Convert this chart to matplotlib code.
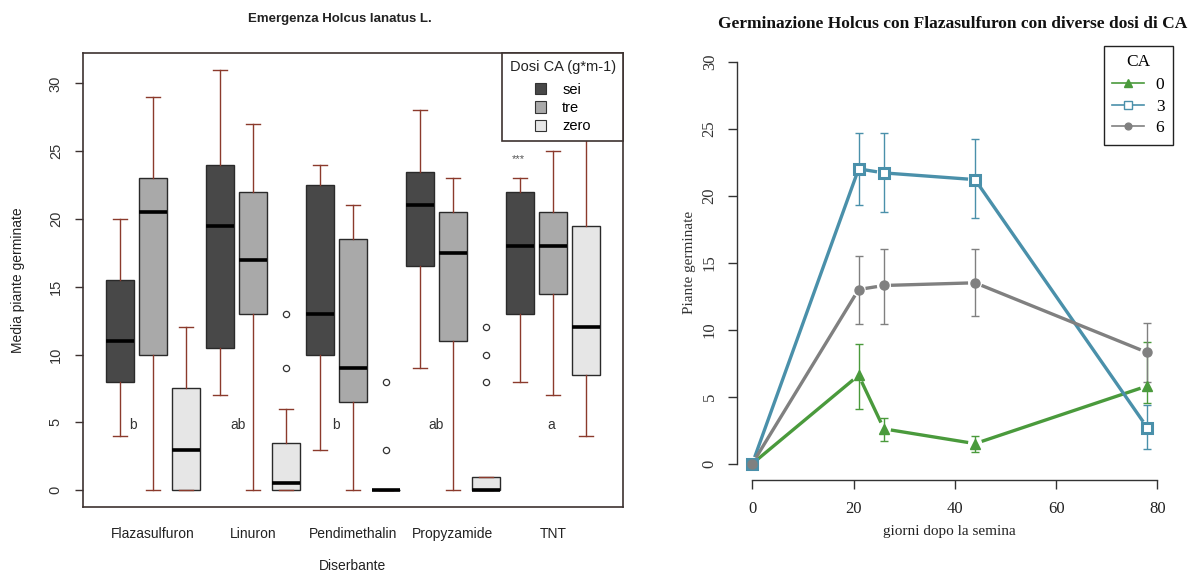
import numpy as np
import matplotlib
matplotlib.use("Agg")
import matplotlib.pyplot as plt
from matplotlib.patches import Patch
from matplotlib.lines import Line2D

# ---------------- data: box plot of emergence ----------------
herbicides = ["Flazasulfuron", "Linuron", "Pendimethalin", "Propyzamide", "TNT"]
doses = ["sei", "tre", "zero"]

# five-number summaries, one list per dose, ordered like `herbicides`
sei_whislo = [4, 7, 3, 9, 8]
sei_q1 = [8, 10.5, 10, 16.5, 13]
sei_med = [11, 19.5, 13, 21, 18]
sei_q3 = [15.5, 24, 22.5, 23.5, 22]
sei_whishi = [20, 31, 24, 28, 23]

tre_whislo = [0, 0, 0, 0, 7]
tre_q1 = [10, 13, 6.5, 11, 14.5]
tre_med = [20.5, 17, 9, 17.5, 18]
tre_q3 = [23, 22, 18.5, 20.5, 20.5]
tre_whishi = [29, 27, 21, 23, 25]

zero_whislo = [0, 0, 0, 0, 4]
zero_q1 = [0, 0, 0, 0, 8.5]
zero_med = [3, 0.5, 0, 0, 12]
zero_q3 = [7.5, 3.5, 0, 1, 19.5]
zero_whishi = [12, 6, 0, 1, 29]
zero_fliers = [[], [9, 13], [3, 8], [8, 10, 12], []]

letters = ["b", "ab", "b", "ab", "a"]
letter_x = [1.4, 4.55, 7.5, 10.5, 13.95]
letter_y = 4.8

# ---------------- data: germination time course ----------------
days = [0, 21, 26, 44, 78]
ca_levels = ["0", "3", "6"]
ca0_mean = [0, 6.6, 2.6, 1.5, 5.8]
ca0_low = [0, 4.1, 1.7, 0.9, 4.5]
ca0_high = [0, 8.9, 3.4, 2.1, 9.1]
ca3_mean = [0, 22.0, 21.7, 21.2, 2.7]
ca3_low = [0, 19.3, 18.8, 18.3, 1.1]
ca3_high = [0, 24.7, 24.7, 24.2, 4.4]
ca6_mean = [0, 13.0, 13.3, 13.5, 8.3]
ca6_low = [0, 10.4, 10.4, 11.0, 6.1]
ca6_high = [0, 15.5, 16.0, 16.0, 10.5]

W, H = 1189, 577
fig = plt.figure(figsize=(W / 100, H / 100), dpi=100)

SANS = ["Liberation Sans", "DejaVu Sans"]
SERIF = ["Liberation Serif", "DejaVu Serif"]

# ================= left panel: box plots =================
frame_col = "#3d3230"
whisk_col = "#8b3a2c"
fill = {"sei": "#484848", "tre": "#a9a9a9", "zero": "#e6e6e6"}

axL = fig.add_axes([83 / W, 1 - 507 / H, (623 - 83) / W, (507 - 53) / H])

summaries = {
    "sei": (sei_whislo, sei_q1, sei_med, sei_q3, sei_whishi, [[]] * 5),
    "tre": (tre_whislo, tre_q1, tre_med, tre_q3, tre_whishi, [[]] * 5),
    "zero": (zero_whislo, zero_q1, zero_med, zero_q3, zero_whishi, zero_fliers),
}

for j, dose in enumerate(doses):
    lo, q1, med, q3, hi, fl = summaries[dose]
    stats = []
    positions = []
    for i in range(len(herbicides)):
        stats.append(dict(whislo=lo[i], q1=q1[i], med=med[i], q3=q3[i],
                          whishi=hi[i], fliers=fl[i]))
        positions.append(3 * i + j + 1)
    axL.bxp(stats, positions=positions, widths=0.84, patch_artist=True,
            showfliers=True,
            boxprops=dict(facecolor=fill[dose], edgecolor="#2a2a2a", linewidth=1.0),
            medianprops=dict(color="black", linewidth=2.6, solid_capstyle="butt"),
            whiskerprops=dict(color=whisk_col, linewidth=1.0),
            capprops=dict(color=whisk_col, linewidth=1.0),
            capwidths=0.42,
            flierprops=dict(marker="o", markersize=4.5, markerfacecolor="white",
                            markeredgecolor="#333333", markeredgewidth=0.9),
            zorder=2)

for txt, lx in zip(letters, letter_x):
    axL.text(lx, letter_y, txt, ha="center", va="center", fontsize=10,
             family=SANS, color="#333333")
axL.text(13 - 0.05, 24.4, "***", ha="center", va="center", fontsize=8,
         family=SANS, color="#555555")

axL.set_xlim(-0.1, 16.1)
axL.set_ylim(-1.24, 32.24)
axL.set_xticks([3 * i + 2 for i in range(len(herbicides))])
axL.set_xticklabels(herbicides, family=SANS, fontsize=10, color="#222222")
axL.tick_params(axis="x", length=0, pad=14.5)
axL.set_yticks(range(0, 31, 5))
axL.set_yticklabels([str(v) for v in range(0, 31, 5)], family=SANS,
                    fontsize=10.5, color="#333333", rotation=90, va="center")
axL.tick_params(axis="y", length=5.5, width=1, color=frame_col, pad=9)
for s in axL.spines.values():
    s.set_color(frame_col)
    s.set_linewidth(1.2)
axL.set_xlabel("Diserbante", family=SANS, fontsize=10, color="#222222")
axL.xaxis.set_label_coords(0.5, -0.115)
axL.set_ylabel("Media piante germinate", family=SANS, fontsize=10, color="#222222")
axL.yaxis.set_label_coords(-0.108, 0.5)
fig.text(340 / W, 1 - 19 / H, "Emergenza Holcus lanatus L.", ha="center",
         va="center", family=SANS, fontsize=9.5, fontweight="bold", color="#222222")

leg_handles = [Patch(facecolor=fill[d], edgecolor="#333333", linewidth=0.8) for d in doses]
legL = axL.legend(leg_handles, doses, title="Dosi CA (g*m-1)", loc="upper right",
                  bbox_to_anchor=(1.0, 1.0), borderaxespad=0, frameon=True,
                  fancybox=False, framealpha=1.0, handlelength=0.8, handleheight=0.8,
                  handletextpad=1.1, labelspacing=0.3, borderpad=0.5,
                  prop=dict(family=SANS, size=10.5),
                  title_fontproperties=dict(family=SANS, size=10.5))
legL.get_frame().set_edgecolor(frame_col)
legL.get_frame().set_linewidth(1.2)
legL.get_title().set_color("#222222")
legL._legend_box.align = "center"
legL._legend_box.sep = 6
legL.set_zorder(10)

# ================= right panel: germination over time =================
axR = fig.add_axes([736.5 / W, 1 - 479.8 / H, (1163 - 736.5) / W, (479.8 - 45.6) / H])
axR.set_xlim(-3.12, 81.12)
axR.set_ylim(-1.2, 31.2)

series = [
    ("0", ca0_mean, ca0_low, ca0_high, "#4a9a3c",
     dict(marker="^", markersize=7.5, markerfacecolor="#4a9a3c", markeredgecolor="#4a9a3c")),
    ("3", ca3_mean, ca3_low, ca3_high, "#4a90aa",
     dict(marker="s", markersize=7.5, markerfacecolor="white", markeredgecolor="#4a90aa",
          markeredgewidth=2.2)),
    ("6", ca6_mean, ca6_low, ca6_high, "#808080",
     dict(marker="o", markersize=6.5, markerfacecolor="#808080", markeredgecolor="#808080")),
]

fig.canvas.draw()
gap_px = 7.0


def gapped_segments(ax, xs, ys, gap):
    pts = ax.transData.transform(np.column_stack([xs, ys]))
    inv = ax.transData.inverted()
    segs = []
    for a, b in zip(pts[:-1], pts[1:]):
        d = b - a
        L = np.hypot(*d)
        if L <= 2 * gap:
            continue
        u = d / L
        seg = inv.transform(np.array([a + u * gap, b - u * gap]))
        segs.append(seg)
    return segs


for name, mean, low, high, col, mk in series:
    for seg in gapped_segments(axR, days, mean, gap_px):
        axR.plot(seg[:, 0], seg[:, 1], color=col, lw=2.4, solid_capstyle="butt", zorder=2)
    err = [np.array(mean) - np.array(low), np.array(high) - np.array(mean)]
    axR.errorbar(days[1:], mean[1:], yerr=[err[0][1:], err[1][1:]], fmt="none",
                 ecolor=col, elinewidth=1.0, capsize=3, capthick=1.0, zorder=3)
    axR.plot(days, mean, linestyle="none", zorder=4, **mk)

for s in ["top", "right"]:
    axR.spines[s].set_visible(False)
axR.spines["left"].set_bounds(0, 30)
axR.spines["bottom"].set_bounds(0, 80)
for s in ["left", "bottom"]:
    axR.spines[s].set_color("#333333")
    axR.spines[s].set_linewidth(1.0)
axR.set_xticks(range(0, 81, 20))
axR.set_xticklabels([str(v) for v in range(0, 81, 20)], family=SERIF, fontsize=12,
                    color="#222222")
axR.set_yticks(range(0, 31, 5))
axR.set_yticklabels([str(v) for v in range(0, 31, 5)], family=SERIF, fontsize=12,
                    color="#333333", rotation=90, va="center")
axR.tick_params(axis="both", length=6.5, width=1, color="#333333")
axR.tick_params(axis="x", pad=9)
axR.tick_params(axis="y", pad=7)
axR.set_xlabel("giorni dopo la semina", family=SERIF, fontsize=11, color="#222222")
axR.xaxis.set_label_coords(0.5, -0.103)
axR.set_ylabel("Piante germinate", family=SERIF, fontsize=11, color="#333333")
axR.yaxis.set_label_coords(-0.095, 0.5)
fig.text(953 / W, 1 - 24 / H,
         "Germinazione Holcus con Flazasulfuron con diverse dosi di CA",
         ha="center", va="center", family=SERIF, fontsize=12.5, fontweight="bold",
         color="#111111")

handlesR = []
for name, mean, low, high, col, mk in series:
    small = dict(mk)
    small["markersize"] = mk["markersize"] * 0.75
    if "markeredgewidth" in small:
        small["markeredgewidth"] = 1.0
    handlesR.append(Line2D([], [], color=col, lw=1.2, **small))
legR = fig.legend(handlesR, ca_levels, title="CA", loc="upper right",
                  bbox_to_anchor=(1173 / W, 1 - 45.5 / H), frameon=True,
                  fancybox=False, framealpha=1.0, handlelength=1.8, handletextpad=0.7,
                  labelspacing=0.3, borderpad=0.5, borderaxespad=0,
                  prop=dict(family=SERIF, size=12.5),
                  title_fontproperties=dict(family=SERIF, size=12.5))
legR.get_frame().set_edgecolor("#222222")
legR.get_frame().set_linewidth(1.0)
legR._legend_box.sep = 5

fig.savefig("out.png", dpi=100)
